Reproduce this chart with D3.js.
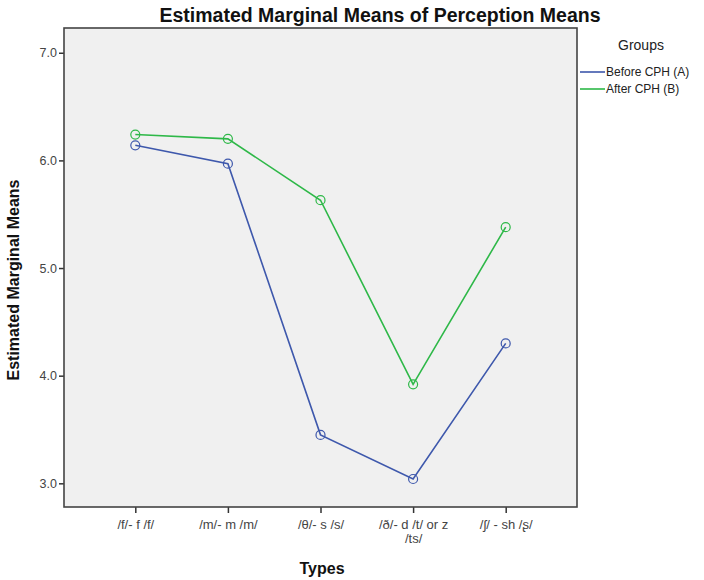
<!DOCTYPE html>
<html>
<head>
<meta charset="utf-8">
<script src="https://cdn.jsdelivr.net/npm/d3@7"></script>
<style>
  body { margin: 0; background: #fff; font-family: "Liberation Sans", Arial, sans-serif; }
</style>
</head>
<body>
<div id="chart"></div>
<script>
// data
const TYPES  = ['/f/- f /f/', '/m/- m /m/', '/θ/- s /s/', '/ð/- d /t/ or z /ts/', '/ʃ/  - sh /ʂ/'];
const GROUPS = ['Before CPH (A)', 'After CPH (B)'];
const BEFORE = [6.14, 5.97, 3.45, 3.04, 4.30];
const AFTER  = [6.24, 6.20, 5.63, 3.92, 5.38];
const Y_TICKS = [3, 4, 5, 6, 7];
const COLORS = ['#3E58AC', '#2EB848'];

const W = 704, H = 580;
const box = { left: 64, top: 28, right: 577, bottom: 507 };

const svg = d3.select('#chart').append('svg')
  .attr('width', W).attr('height', H);

const x = d3.scalePoint(TYPES, [box.left, box.right]).padding(0.77);
const y = d3.scaleLinear([2.78, 7.23], [box.bottom, box.top]);

// plot background
svg.append('rect')
  .attr('x', box.left).attr('y', box.top)
  .attr('width', box.right - box.left).attr('height', box.bottom - box.top)
  .attr('fill', '#f0f0f0');

// axes
const yAxis = svg.append('g')
  .attr('transform', `translate(${box.left},0)`)
  .call(d3.axisLeft(y).tickValues(Y_TICKS).tickFormat(d3.format('.1f')).tickSize(5).tickPadding(2));
const xAxis = svg.append('g')
  .attr('transform', `translate(0,${box.bottom})`)
  .call(d3.axisBottom(x).tickSize(6).tickPadding(7));

[yAxis, xAxis].forEach(g => {
  g.select('.domain').remove();
  g.selectAll('line').attr('stroke', '#333').attr('stroke-width', 1.5);
  g.selectAll('text').attr('fill', '#444').attr('font-size', 12.5)
    .attr('font-family', '"Liberation Sans", Arial, sans-serif');
});

// wrap the long x label on two lines
xAxis.selectAll('text').each(function (d) {
  if (d !== TYPES[3]) return;
  const t = d3.select(this).text(null);
  t.append('tspan').attr('x', 0).attr('dy', '0.71em').text('/ð/- d /t/ or z');
  t.append('tspan').attr('x', 0).attr('dy', '1.05em').text('/ts/');
  t.attr('dy', null);
});
xAxis.selectAll('text').attr('font-size', 13);

// frame
svg.append('rect')
  .attr('x', box.left).attr('y', box.top)
  .attr('width', box.right - box.left).attr('height', box.bottom - box.top)
  .attr('fill', 'none').attr('stroke', '#444').attr('stroke-width', 1.6);

// series
const line = d3.line().x((d, i) => x(TYPES[i])).y(d => y(d));
[BEFORE, AFTER].forEach((vals, k) => {
  svg.append('path')
    .attr('d', line(vals))
    .attr('fill', 'none').attr('stroke', COLORS[k]).attr('stroke-width', 1.6);
  svg.append('g').selectAll('circle')
    .data(vals)
    .join('circle')
      .attr('cx', (d, i) => x(TYPES[i]))
      .attr('cy', d => y(d))
      .attr('r', 4.5)
      .attr('fill', 'none')
      .attr('stroke', COLORS[k])
      .attr('stroke-width', 1.2);
});

// titles
svg.append('text')
  .attr('x', 380).attr('y', 22)
  .attr('text-anchor', 'middle')
  .attr('font-size', 19.5).attr('font-weight', 'bold').attr('fill', '#111')
  .text('Estimated Marginal Means of Perception Means');

svg.append('text')
  .attr('transform', 'translate(19,280) rotate(-90)')
  .attr('text-anchor', 'middle')
  .attr('font-size', 16).attr('font-weight', 'bold').attr('fill', '#111')
  .text('Estimated Marginal Means');

svg.append('text')
  .attr('x', 322).attr('y', 574)
  .attr('text-anchor', 'middle')
  .attr('font-size', 16).attr('font-weight', 'bold').attr('fill', '#111')
  .text('Types');

// legend
const lg = svg.append('g').attr('transform', 'translate(580,0)');
lg.append('text')
  .attr('x', 61).attr('y', 50)
  .attr('text-anchor', 'middle')
  .attr('font-size', 14).attr('fill', '#222')
  .text('Groups');
GROUPS.forEach((g, i) => {
  const yy = 72 + i * 17;
  lg.append('line')
    .attr('x1', 0).attr('x2', 25).attr('y1', yy).attr('y2', yy)
    .attr('stroke', COLORS[i]).attr('stroke-width', 1.6);
  lg.append('text')
    .attr('x', 26).attr('y', yy + 4)
    .attr('font-size', 12).attr('fill', '#222')
    .text(g);
});
</script>
</body>
</html>
